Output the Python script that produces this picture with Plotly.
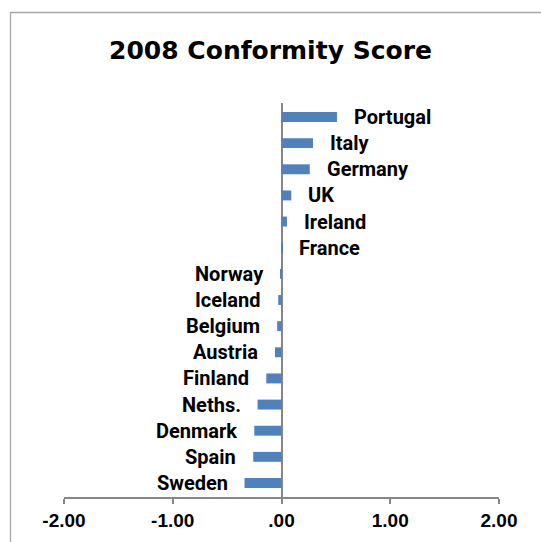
import plotly.graph_objects as go

# 2008 conformity scores by country (top to bottom)
countries = ["Portugal", "Italy", "Germany", "UK", "Ireland", "France", "Norway",
             "Iceland", "Belgium", "Austria", "Finland", "Neths.", "Denmark",
             "Spain", "Sweden"]
scores = [0.51, 0.29, 0.26, 0.09, 0.05, 0.005, -0.005,
          -0.03, -0.04, -0.06, -0.14, -0.22, -0.25, -0.26, -0.34]

tick_vals = [-2, -1, 0, 1, 2]
tick_text = ["-2.00", "-1.00", ".00", "1.00", "2.00"]

W, H = 541, 542
ML, MR, MT, MB = 64, 42, 103, 45
PW, PH = W - ML - MR, H - MT - MB

BAR_COLOR = "#4F81BD"
AXIS_COLOR = "#868686"
LABEL_FONT = dict(family="Roboto, Liberation Sans, Arial", size=20, color="black")


def paper_x(px):
    return (px - ML) / PW


def paper_y(py):
    return (H - MB - py) / PH


fig = go.Figure(
    go.Bar(
        x=scores,
        y=countries,
        orientation="h",
        marker=dict(color=BAR_COLOR, line=dict(width=0)),
        hoverinfo="x+y",
    )
)

# Country names placed just beyond each bar end
annotations = []
for name, val in zip(countries, scores):
    right = val >= 0
    annotations.append(dict(
        x=val, y=name, xref="x", yref="y",
        text=f"<b>{name}</b>", showarrow=False,
        xanchor="left" if right else "right",
        xshift=15 if right else -15,
        yanchor="middle",
        font=LABEL_FONT,
    ))

fig.update_layout(
    width=W, height=H,
    margin=dict(l=ML, r=MR, t=MT, b=MB, pad=0),
    paper_bgcolor="white", plot_bgcolor="white",
    showlegend=False,
    bargap=0.62,
    title=dict(
        text="<b>2008 Conformity Score</b>",
        font=dict(family="DejaVu Sans, Liberation Sans, Arial", size=25, color="black"),
        x=0.5, xref="container", xanchor="center",
        y=1 - 50 / H, yref="container", yanchor="middle",
    ),
    xaxis=dict(
        range=[-2, 2],
        tickmode="array", tickvals=tick_vals, ticktext=tick_text,
        tickfont=dict(family="Liberation Sans, Arial", size=19, color="black", weight="bold"),
        showgrid=False,
        showline=True, linecolor=AXIS_COLOR, linewidth=1.5,
        ticks="outside", ticklen=5, tickwidth=1.5, tickcolor=AXIS_COLOR,
        zeroline=True, zerolinecolor=AXIS_COLOR, zerolinewidth=2,
        fixedrange=True,
    ),
    yaxis=dict(
        categoryorder="array", categoryarray=countries,
        autorange="reversed",
        showticklabels=False, showgrid=False, showline=False,
        zeroline=False, ticks="",
        fixedrange=True,
    ),
    annotations=annotations,
    shapes=[dict(
        type="rect", xref="paper", yref="paper",
        x0=paper_x(10.5), x1=paper_x(W + 10),
        y0=paper_y(H + 10), y1=paper_y(12.5),
        line=dict(color="#A6A6A6", width=1.3),
        fillcolor="rgba(0,0,0,0)", layer="below",
    )],
)

fig.write_html("out.html")
